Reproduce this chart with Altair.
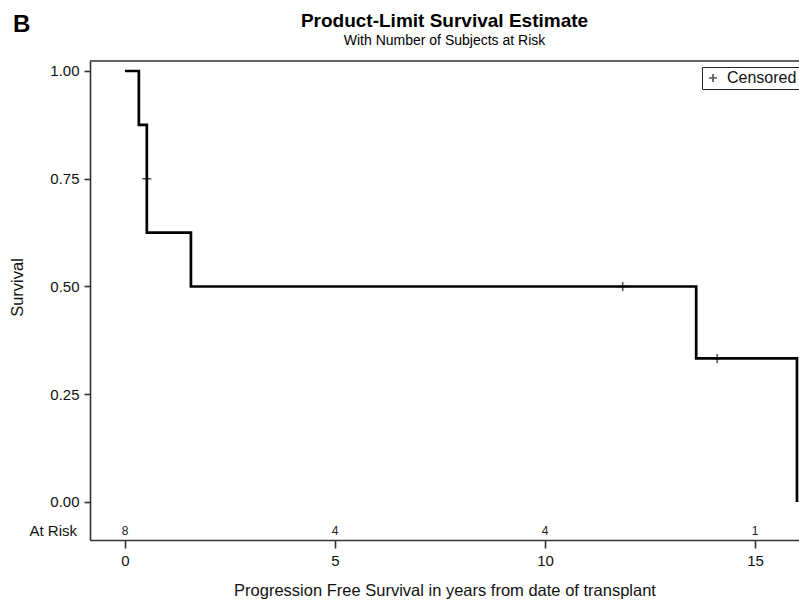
import altair as alt
import pandas as pd

# Kaplan-Meier step data
step_time = [0.0, 0.33, 0.52, 1.57, 13.6, 16.0]
step_surv = [1.0, 0.875, 0.625, 0.5, 0.333, 0.0]

cens_time = [0.52, 11.85, 14.1]
cens_surv = [0.75, 0.5, 0.333]

risk_time = [0, 5, 10, 15]
risk_n = ["8", "4", "4", "1"]

FONT = "Liberation Sans"
xdom = [-0.833, 16.048]
ydom = [-0.0882, 1.0232]

step_df = pd.DataFrame({"t": step_time, "s": step_surv})
cens_df = pd.DataFrame({"t": cens_time, "s": cens_surv, "lab": ["Censored"] * len(cens_time)})
risk_df = pd.DataFrame({"t": risk_time, "n": risk_n})

xs = alt.Scale(domain=xdom, nice=False, zero=False)
ys = alt.Scale(domain=ydom, nice=False, zero=False)

line = alt.Chart(step_df).mark_line(interpolate="step-after", color="black", strokeWidth=2.7).encode(
    x=alt.X("t:Q", scale=xs, axis=alt.Axis(
        values=[0, 5, 10, 15], title="Progression Free Survival in years from date of transplant",
        grid=False, tickSize=8, labelPadding=5, titlePadding=14)),
    y=alt.Y("s:Q", scale=ys, axis=alt.Axis(
        values=[0, 0.25, 0.5, 0.75, 1.0], format=".2f", title="Survival",
        grid=False, tickSize=6, labelPadding=5,
        titleX=-73, titleY=226, titleAngle=270, titleAlign="center", titleBaseline="middle")),
)

cross = "M-1,0L1,0M0,-1L0,1"
cens = alt.Chart(cens_df).mark_point(strokeWidth=1.5, size=81, filled=False, color="black").encode(
    x=alt.X("t:Q", scale=xs),
    y=alt.Y("s:Q", scale=ys),
    shape=alt.Shape("lab:N", scale=alt.Scale(range=[cross]), legend=alt.Legend(
        title=None, orient="none", legendX=612, legendY=6, strokeColor="#222",
        padding=3, labelFont=FONT, labelFontSize=16, labelColor="#111", labelOffset=6,
        symbolStrokeColor="#111", symbolStrokeWidth=1.7, symbolSize=64, symbolFillColor="transparent")),
)

risk = alt.Chart(risk_df).mark_text(font=FONT, fontSize=12, color="#222", baseline="middle").encode(
    x=alt.X("t:Q", scale=xs),
    y=alt.value(470),
    text="n:N",
)

risk_label = alt.Chart(pd.DataFrame({"txt": ["At Risk"]})).mark_text(
    font=FONT, fontSize=15, align="right", baseline="middle", color="#111"
).encode(x=alt.value(-13), y=alt.value(470), text="txt:N")

top_rule = alt.Chart(pd.DataFrame({"a": [0]})).mark_rule(color="#333", strokeWidth=1.6).encode(
    x=alt.value(0), x2=alt.value(712), y=alt.value(0)
)

panel = alt.Chart(pd.DataFrame({"txt": ["B"]})).mark_text(
    font=FONT, fontSize=24, fontWeight="bold", align="left", baseline="alphabetic", color="black"
).encode(x=alt.value(-77), y=alt.value(-29), text="txt:N")

chart = alt.layer(line, cens, risk, risk_label, top_rule, panel).properties(
    width=709, height=479,
    autosize=alt.AutoSizeParams(type="none"),
    padding={"left": 90, "top": 61, "right": 0, "bottom": 61},
    title=alt.Title(
        "Product-Limit Survival Estimate",
        subtitle="With Number of Subjects at Risk",
        anchor="middle", frame="group", offset=15, dy=50,
        font=FONT, fontSize=19, fontWeight="bold", color="black",
        subtitleFont=FONT, subtitleFontSize=14, subtitleColor="black", subtitlePadding=3,
    ),
).configure_view(stroke=None).configure_axis(
    domainColor="#333", domainWidth=1.6, tickColor="#333", tickWidth=1.6,
    labelFont=FONT, labelFontSize=15, labelColor="#111",
    titleFont=FONT, titleFontSize=16.5, titleColor="#111", titleFontWeight="normal",
)

chart.save("out.html", embed_options={"renderer": "svg", "actions": False})
